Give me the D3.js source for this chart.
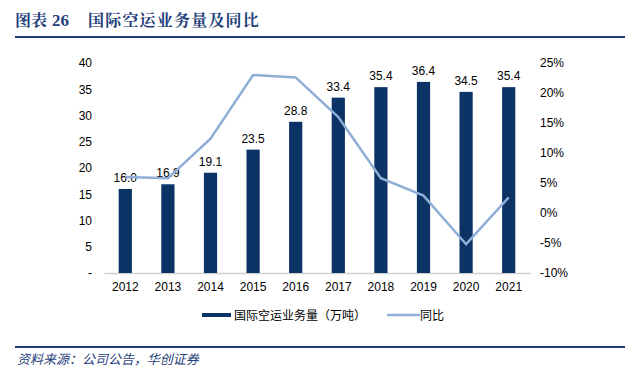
<!DOCTYPE html>
<html><head><meta charset="utf-8">
<script src="https://cdn.jsdelivr.net/npm/d3@7"></script>
<style>body{margin:0;background:#fff;}svg{display:block;}</style>
</head><body>
<svg id="c" width="640" height="378"></svg>
<script>
const categories = ["2012","2013","2014","2015","2016","2017","2018","2019","2020","2021"];
const volume = [16.0,16.9,19.1,23.5,28.8,33.4,35.4,36.4,34.5,35.4];
const yoy = [6.0,5.8,12.4,23.0,22.6,16.0,5.8,2.9,-5.2,2.6];
const leftTicks = [0,5,10,15,20,25,30,35,40];
const rightTicks = [-10,-5,0,5,10,15,20,25];

const svg = d3.select("#c");
const font = "Arial, 'Liberation Sans', 'Noto Sans CJK SC', sans-serif";
const barColor = "#0b3366", lineColor = "#8eaed6", titleColor = "#1f3f7a";
const serif = "'Noto Serif CJK SC','Noto Sans CJK SC',serif";

// title
svg.append("text").attr("x",15).attr("y",26).attr("fill",titleColor)
  .attr("font-family",serif).attr("font-weight","bold").attr("font-size",16)
  .text("图表");
svg.append("text").attr("x",52).attr("y",26).attr("fill",titleColor)
  .attr("font-family","'Liberation Serif','DejaVu Serif',serif").attr("font-weight","bold").attr("font-size",17)
  .text("26");
svg.append("text").attr("x",88).attr("y",26).attr("fill",titleColor)
  .attr("font-family",serif).attr("font-weight","bold").attr("font-size",16).attr("letter-spacing",1.2)
  .text("国际空运业务量及同比");
svg.append("line").attr("x1",15).attr("x2",625).attr("y1",37).attr("y2",37).attr("stroke",titleColor).attr("stroke-width",2);
svg.append("line").attr("x1",15).attr("x2",625).attr("y1",347).attr("y2",347).attr("stroke",titleColor).attr("stroke-width",2);
svg.append("text").attr("x",0).attr("y",0).attr("fill",titleColor)
  .attr("font-family","'Noto Sans CJK SC',sans-serif").attr("font-size",13)
  .attr("transform","translate(17,364) skewX(-14)")
  .text("资料来源：公司公告，华创证券");

const x = d3.scaleBand().domain(categories).range([104,530]).paddingInner(0.69).paddingOuter(0.345);
const yL = d3.scaleLinear().domain([0,40]).range([273,63]);
const yR = d3.scaleLinear().domain([-10,25]).range([273,63]);

// left axis
const gL = svg.append("g").attr("transform","translate(92,0)")
  .call(d3.axisLeft(yL).tickValues(leftTicks).tickSize(0).tickPadding(0).tickFormat(d=> d===0?"-":d));
gL.select(".domain").remove();
gL.selectAll("text").attr("font-family",font).attr("font-size",12).attr("fill","#000");

const gR = svg.append("g").attr("transform","translate(540,0)")
  .call(d3.axisRight(yR).tickValues(rightTicks).tickSize(0).tickPadding(0).tickFormat(d=>d+"%"));
gR.select(".domain").remove();
gR.selectAll("text").attr("font-family",font).attr("font-size",12).attr("fill","#000");

// x axis
const gX = svg.append("g").attr("transform","translate(0,273)")
  .call(d3.axisBottom(x).tickSize(0).tickPadding(9));
gX.select(".domain").attr("stroke","#d0d0d0").attr("stroke-width",1.5);
gX.selectAll("text").attr("font-family",font).attr("font-size",12).attr("fill","#000");

// bars
svg.append("g").selectAll("rect").data(volume).join("rect")
  .attr("x",(d,i)=>x(categories[i])).attr("width",x.bandwidth())
  .attr("y",d=>yL(d)).attr("height",d=>yL(0)-yL(d)).attr("fill",barColor);

// labels
svg.append("g").selectAll("text").data(volume).join("text")
  .attr("x",(d,i)=>x(categories[i])+x.bandwidth()/2).attr("y",d=>yL(d)-7)
  .attr("text-anchor","middle").attr("font-family",font).attr("font-size",12).attr("fill","#000")
  .text(d=>d.toFixed(1));

// line
const line = d3.line().x((d,i)=>x(categories[i])+x.bandwidth()/2).y(d=>yR(d));
svg.append("path").datum(yoy).attr("d",line).attr("fill","none").attr("stroke",lineColor).attr("stroke-width",2.5);

// legend
const lg = svg.append("g");
lg.append("rect").attr("x",202).attr("y",313).attr("width",29).attr("height",4).attr("fill",barColor);
lg.append("text").attr("x",234).attr("y",320).attr("font-family","'Noto Sans CJK SC',sans-serif").attr("font-size",12).text("国际空运业务量（万吨）");
lg.append("line").attr("x1",387).attr("x2",420).attr("y1",315).attr("y2",315).attr("stroke",lineColor).attr("stroke-width",2.5);
lg.append("text").attr("x",420).attr("y",320).attr("font-family","'Noto Sans CJK SC',sans-serif").attr("font-size",12).text("同比");
</script>
</body></html>
